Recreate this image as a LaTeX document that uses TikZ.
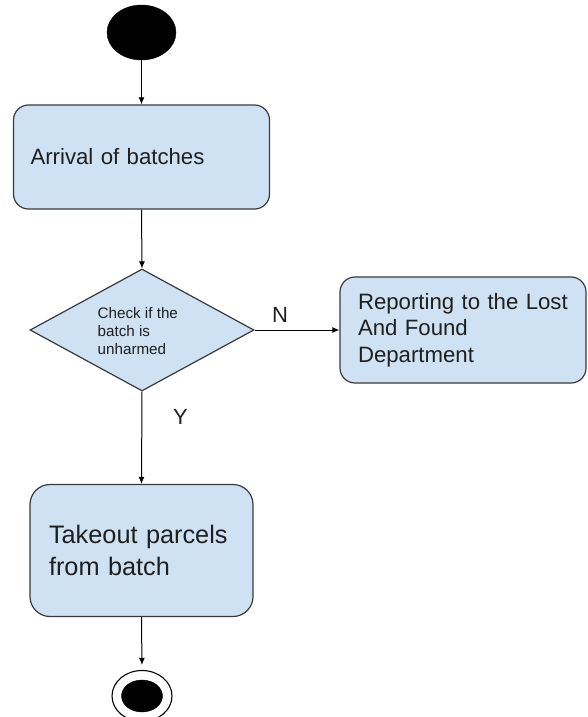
\documentclass[tikz,border=0pt]{standalone}
\usepackage{fontspec}
\setmainfont{Liberation Sans}
\usetikzlibrary{shapes.geometric,arrows.meta}

\definecolor{boxfill}{HTML}{CFE2F3}
\definecolor{boxline}{HTML}{3A3A3A}
\definecolor{ink}{HTML}{1F1F1F}

\tikzset{
  activity/.style={draw=boxline, fill=boxfill, line width=1.2pt,
    rounded corners=15pt, align=left, text=ink, inner sep=0pt},
  decision/.style={diamond, draw=boxline, fill=boxfill, line width=1.2pt,
    inner sep=0pt, minimum width=224pt, minimum height=122pt},
  initial/.style={ellipse, fill=black, draw=black, inner sep=0pt},
  finalring/.style={ellipse, fill=white, draw=black, line width=1.1pt, inner sep=0pt},
  flow/.style={draw=black, line width=1pt, -{Latex[length=7pt,width=6pt]}},
  guard/.style={text=ink, font=\fontsize{22}{25}\selectfont}
}

\begin{document}
\begin{tikzpicture}[x=1pt, y=-1pt]
  \useasboundingbox (0,0) rectangle (587,717);

  % start state
  \node[initial, minimum width=69pt, minimum height=55pt] (start) at (141.5,32.5) {};

  % activities
  \node[activity, minimum width=256pt, minimum height=104pt, text width=222pt,
        font=\fontsize{22.2}{25}\selectfont] (arrival) at (141.5,157) {Arrival~of~batches};

  \node[decision] (check) at (142,330) {};
  \node[text=ink, align=left, inner sep=0pt, anchor=west,
        font=\fontsize{15.2}{18}\selectfont]
        (checktext) at (97.5,331) {Check if the\\batch is\\unharmed};

  \node[activity, minimum width=246pt, minimum height=106pt, text width=210pt,
        font=\fontsize{22.2}{26.5}\selectfont] (report) at (463,330)
        {Reporting~to~the~Lost\\And~Found\\Department};

  \node[activity, rounded corners=20pt, minimum width=223pt, minimum height=132pt,
        text width=185pt, font=\fontsize{25.3}{32}\selectfont] (takeout) at (141.5,550.5)
        {Takeout~parcels\\from~batch};

  % final state
  \node[finalring, minimum width=60pt, minimum height=51pt] (final) at (142,696) {};
  \node[initial, minimum width=41pt, minimum height=32pt] (finaldot) at (142,696) {};

  % transitions
  \draw[flow] (start.south) -- (arrival.north);
  \draw[flow] (arrival.south) -- (check.north);
  \draw[flow] (check.east) -- (report.west);
  \draw[flow] (check.south) -- (takeout.north);
  \draw[flow, shorten >=5pt] (takeout.south) -- (final.north);

  % guard labels
  \node[guard] (guardN) at (280,315) {N};
  \node[guard] (guardY) at (180.5,417) {Y};
\end{tikzpicture}
\end{document}
